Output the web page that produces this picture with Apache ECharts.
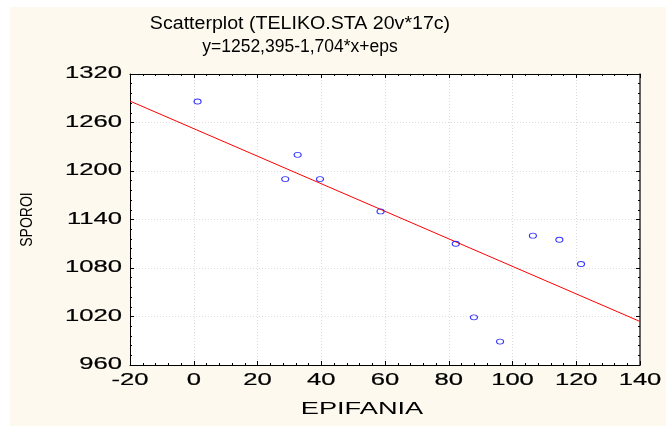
<!DOCTYPE html>
<html>
<head>
<meta charset="utf-8">
<script src="https://cdn.jsdelivr.net/npm/echarts@6/dist/echarts.min.js"></script>
<style>
  html, body { margin: 0; padding: 0; background: #ffffff; }
  #panel { position: absolute; left: 10px; top: 7px; right: 0; bottom: 0; background: #fdf9ee; }
  #chart { position: absolute; left: 0; top: 0; width: 666px; height: 426px; }
</style>
</head>
<body>
<div id="panel"></div>
<div id="chart"></div>
<script>
// Observations: EPIFANIA (x) vs SPOROI (y)
const epifania = [1.2, 32.6, 28.7, 39.6, 58.6, 82.2, 87.9, 96.1, 106.4, 114.7, 121.5];
const sporoi   = [1286, 1220, 1190, 1190, 1150, 1110, 1019, 989, 1120, 1115, 1085];

// Fitted regression y = a + b*x
const intercept = 1252.395;
const slope = -1.704;

// Axis ticks
const xTicks = [-20, 0, 20, 40, 60, 80, 100, 120, 140];
const yTicks = [960, 1020, 1080, 1140, 1200, 1260, 1320];

// Texts
const titleLines = ['Scatterplot (TELIKO.STA 20v*17c)', 'y=1252,395-1,704*x+eps'];
const xName = 'EPIFANIA';
const yName = 'SPOROI';

const xMin = xTicks[0], xMax = xTicks[xTicks.length - 1];
const yMin = yTicks[0], yMax = yTicks[yTicks.length - 1];
const xStep = xTicks[1] - xTicks[0];
const yStep = yTicks[1] - yTicks[0];

const points = epifania.map((x, i) => [x, sporoi[i]]);
const fitLine = [xMin, xMax].map(x => [x, intercept + slope * x]);

const FONT = '"Liberation Sans", Arial, sans-serif';

function axisCommon(extra) {
  return Object.assign({
    type: 'value',
    axisLine: { show: true, onZero: false, lineStyle: { color: '#000', width: 1 } },
    axisTick: { show: true, inside: true, length: 4, lineStyle: { color: '#000', width: 1 } },
    minorTick: { show: true, splitNumber: 5, length: 2, lineStyle: { color: '#000', width: 1 } },
    axisLabel: { show: false },
    splitLine: { show: false }
  }, extra);
}

const gridLine = { show: true, lineStyle: { color: '#dcdcdc', width: 1, type: [1, 2] } };

const chart = echarts.init(document.getElementById('chart'), null, { renderer: 'canvas' });

chart.setOption({
  animation: false,
  backgroundColor: 'transparent',
  grid: { left: 130, top: 74, right: 26, bottom: 61, show: true, backgroundColor: '#ffffff', borderWidth: 0 },
  xAxis: [
    axisCommon({ min: xMin, max: xMax, interval: xStep, position: 'bottom', splitLine: gridLine }),
    axisCommon({ min: xMin, max: xMax, interval: xStep, position: 'top' })
  ],
  yAxis: [
    axisCommon({ min: yMin, max: yMax, interval: yStep, position: 'left', splitLine: gridLine }),
    axisCommon({ min: yMin, max: yMax, interval: yStep, position: 'right',
      axisLine: { show: true, onZero: false, lineStyle: { color: '#333', width: 1.5 } } })
  ],
  series: [
    {
      type: 'line',
      data: fitLine,
      symbol: 'none',
      silent: true,
      lineStyle: { color: '#ff0000', width: 1 },
      z: 2
    },
    {
      type: 'scatter',
      data: points,
      symbol: 'circle',
      symbolSize: [7, 5],
      itemStyle: { color: 'rgba(0,0,0,0)', borderColor: '#0000ff', borderWidth: 1 },
      z: 3
    }
  ]
});

// Stretched text labels placed from the axis scales
const graphics = [];
const bottomPx = chart.convertToPixel({ yAxisIndex: 0 }, yMin);
const leftPx = chart.convertToPixel({ xAxisIndex: 0 }, xMin);
const topPx = chart.convertToPixel({ yAxisIndex: 0 }, yMax);

const tickStyle = { font: '16px ' + FONT, fill: '#000', stroke: '#000', lineWidth: 0.2 };

xTicks.forEach(v => {
  graphics.push({
    type: 'text', x: chart.convertToPixel({ xAxisIndex: 0 }, v), y: bottomPx + 16, scaleX: 1.6,
    style: Object.assign({ text: String(v), textAlign: 'center', textVerticalAlign: 'middle' }, tickStyle)
  });
});
yTicks.forEach(v => {
  graphics.push({
    type: 'text', x: leftPx - 8, y: chart.convertToPixel({ yAxisIndex: 0 }, v), scaleX: 1.6,
    style: Object.assign({ text: String(v), textAlign: 'right', textVerticalAlign: 'middle' }, tickStyle)
  });
});

const titleX = 300;
const titleScale = [1.12, 1.0];
titleLines.forEach((t, i) => {
  graphics.push({
    type: 'text', x: titleX, y: 24 + i * 23, scaleX: titleScale[i],
    style: { text: t, font: '17.5px ' + FONT, fill: '#000', textAlign: 'center', textVerticalAlign: 'middle' }
  });
});

graphics.push({
  type: 'text', x: 362, y: bottomPx + 45, scaleX: 1.7,
  style: { text: xName, font: '16px ' + FONT, fill: '#000', textAlign: 'center', textVerticalAlign: 'middle' }
});
graphics.push({
  type: 'text', x: 28, y: (topPx + bottomPx) / 2, rotation: Math.PI / 2, scaleY: 1.15,
  style: { text: yName, font: '14px ' + FONT, fill: '#000', textAlign: 'center', textVerticalAlign: 'middle' }
});

chart.setOption({ graphic: graphics });
</script>
</body>
</html>
